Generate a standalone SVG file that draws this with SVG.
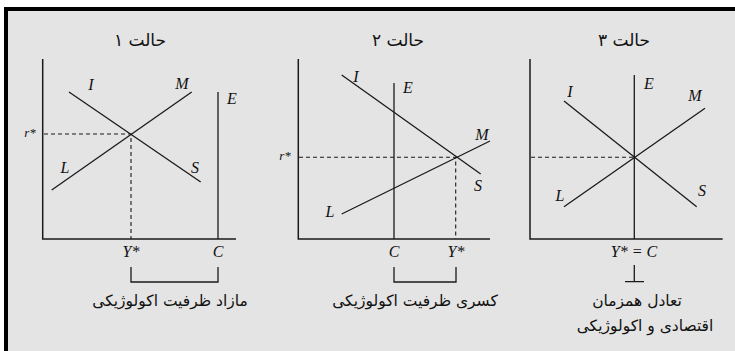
<svg xmlns="http://www.w3.org/2000/svg" width="735" height="351" viewBox="0 0 735 351">
<style>
.ax{stroke:#1a1a1a;stroke-width:1.5;fill:none}
.ln{stroke:#1a1a1a;stroke-width:1.3;fill:none}
.ds{stroke:#1a1a1a;stroke-width:1.1;stroke-dasharray:4 3;fill:none}
.lb{font-family:"Liberation Serif",serif;font-style:italic;font-size:16px;fill:#111;text-anchor:middle}
.rs{font-size:13px}
.fa{font-family:"DejaVu Sans",sans-serif;font-size:15.5px;fill:#111;text-anchor:middle}
.tt{font-size:17px}
</style>
<rect x="0" y="0" width="735" height="351" fill="#ffffff"/>
<rect x="6" y="9" width="731" height="344" fill="#e4e4e4" stroke="#000" stroke-width="4"/>

<g id="panel1">
<text class="fa tt" x="140" y="46" direction="rtl">حالت ۱</text>
<path class="ax" d="M42.7,59 V239 H236"/>
<path class="ln" d="M218,92 V239"/>
<text class="lb" x="232" y="104">E</text>
<path class="ln" d="M69,92 L200.7,182"/>
<path class="ln" d="M51.7,190 L191.7,92"/>
<text class="lb" x="91" y="90">I</text>
<text class="lb" x="182" y="89">M</text>
<text class="lb" x="65" y="173">L</text>
<text class="lb" x="195" y="173">S</text>
<path class="ds" d="M44,134 H131 V239"/>
<text class="lb rs" x="30" y="137">r*</text>
<text class="lb" x="131" y="257">Y*</text>
<text class="lb" x="218" y="257">C</text>
<path class="ln" d="M131,267 V282 H218 V267"/>
<text class="fa" x="170" y="306" direction="rtl">مازاد ظرفیت اکولوژیکی</text>
</g>

<g id="panel2">
<text class="fa tt" x="398" y="46" direction="rtl">حالت ۲</text>
<path class="ax" d="M298.3,59 V239 H490"/>
<path class="ln" d="M394,83 V239"/>
<text class="lb" x="408" y="93">E</text>
<path class="ln" d="M341.7,75 L480.7,174"/>
<path class="ln" d="M341.7,214 L490,141"/>
<text class="lb" x="356" y="82">I</text>
<text class="lb" x="482" y="140">M</text>
<text class="lb" x="330" y="217">L</text>
<text class="lb" x="478" y="191">S</text>
<path class="ds" d="M299,157.3 H455.7 V239"/>
<text class="lb rs" x="285" y="160">r*</text>
<text class="lb" x="394" y="257">C</text>
<text class="lb" x="456" y="257">Y*</text>
<path class="ln" d="M394,267 V282 H456 V267"/>
<text class="fa" x="415" y="306" direction="rtl">کسری ظرفیت اکولوژیکی</text>
</g>

<g id="panel3">
<text class="fa tt" x="624" y="46" direction="rtl">حالت ۳</text>
<path class="ax" d="M530,59 V239 H722.7"/>
<path class="ln" d="M634.3,75 V239"/>
<text class="lb" x="649" y="89">E</text>
<path class="ln" d="M564,101 L696.7,206.7"/>
<path class="ln" d="M564,206.7 L705,108.3"/>
<text class="lb" x="570" y="97">I</text>
<text class="lb" x="695" y="101">M</text>
<text class="lb" x="560" y="201">L</text>
<text class="lb" x="702" y="196">S</text>
<path class="ds" d="M531,157.3 H634.3"/>
<text class="lb" x="634" y="257">Y* = C</text>
<path class="ln" d="M634.3,265 V281.7 M625,281.7 H644"/>
<text class="fa" x="637" y="306" direction="rtl">تعادل همزمان</text>
<text class="fa" x="645" y="331" direction="rtl">اقتصادی و اکولوژیکی</text>
</g>
</svg>
